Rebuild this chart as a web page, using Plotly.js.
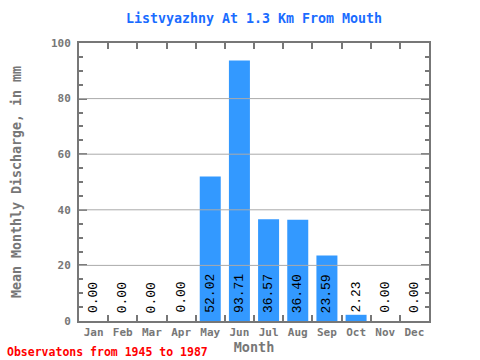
<!DOCTYPE html>
<html>
<head>
<meta charset="utf-8">
<script src="https://cdn.plot.ly/plotly-3.0.1.min.js"></script>
<style>html,body{margin:0;padding:0;background:#fff;}#chart{width:480px;height:360px;}</style>
</head>
<body>
<div id="chart"></div>
<script>
const months = ["Jan","Feb","Mar","Apr","May","Jun","Jul","Aug","Sep","Oct","Nov","Dec"];
const discharge = [0.00, 0.00, 0.00, 0.00, 52.02, 93.71, 36.57, 36.40, 23.59, 2.23, 0.00, 0.00];
const yTickVals = [0, 20, 40, 60, 80, 100];
const gridVals = [20, 40, 60, 80];
const titleText = "Listvyazhny At 1.3 Km From Mouth";
const yTitle = "Mean Monthly Discharge, in mm";
const xTitle = "Month";
const footnote = "Observatons from 1945 to 1987";

const mono = "'DejaVu Sans Mono', 'Liberation Mono', monospace";
const thinMono = "'Liberation Mono', 'DejaVu Sans Mono', monospace";
const gray = "#777777";

const trace = {
  type: "bar",
  x: months,
  y: discharge,
  marker: {color: "#3399ff", line: {width: 0}},
  hoverinfo: "skip"
};

const annotations = months.map((m, i) => ({
  x: m, y: 0, xref: "x", yref: "y",
  text: discharge[i].toFixed(2),
  textangle: -90,
  showarrow: false,
  yanchor: "bottom", xanchor: "center",
  yshift: 6,
  font: {family: thinMono, size: 13, color: "#000"}
}));
annotations.push({
  xref: "paper", yref: "paper",
  x: (5 - 79) / 350, y: (321 - 352) / 278,
  xanchor: "left", yanchor: "middle",
  text: "<b>" + footnote + "</b>",
  showarrow: false,
  font: {family: mono, size: 11.5, color: "#ff0000"}
});

const shapes = gridVals.map(v => ({
  type: "line", xref: "paper", yref: "y",
  x0: 0, x1: 1, y0: v, y1: v,
  line: {color: "#aaaaaa", width: 1},
  layer: "above"
}));

const layout = {
  width: 480, height: 360,
  margin: {l: 79, r: 51, t: 43, b: 39, pad: 0},
  paper_bgcolor: "#ffffff",
  plot_bgcolor: "#ffffff",
  showlegend: false,
  bargap: 0.28,
  title: {
    text: "<b>" + titleText + "</b>",
    font: {family: mono, size: 13.3, color: "#1a6cff"},
    x: 0.5, xref: "paper", xanchor: "center",
    y: 1 - 18 / 360, yref: "container", yanchor: "middle"
  },
  xaxis: {
    type: "category",
    range: [-0.5, 11.5],
    showline: true, linecolor: gray, linewidth: 2, mirror: "ticks",
    ticks: "inside", tickson: "boundaries", ticklen: 6, tickwidth: 2, tickcolor: gray,
    tickangle: 0,
    showgrid: false, zeroline: false,
    tickfont: {family: mono, size: 11, color: gray, weight: "bold"},
    title: {text: "<b>" + xTitle + "</b>", font: {family: mono, size: 13.5, color: gray}, standoff: 2}
  },
  yaxis: {
    range: [0, 100],
    tickvals: yTickVals,
    showline: true, linecolor: gray, linewidth: 2, mirror: "ticks",
    ticks: "inside", ticklen: 8, tickwidth: 2, tickcolor: gray,
    ticklabelstandoff: 4,
    minor: {dtick: 5, ticks: "inside", ticklen: 4, tickwidth: 2, tickcolor: gray, showgrid: false},
    showgrid: false, zeroline: false,
    tickfont: {family: mono, size: 11, color: gray, weight: "bold"},
    title: {text: "<b>" + yTitle + "</b>", font: {family: mono, size: 13.3, color: gray}, standoff: 26}
  },
  annotations: annotations,
  shapes: shapes
};

Plotly.newPlot("chart", [trace], layout, {displayModeBar: false, staticPlot: true});
</script>
</body>
</html>
